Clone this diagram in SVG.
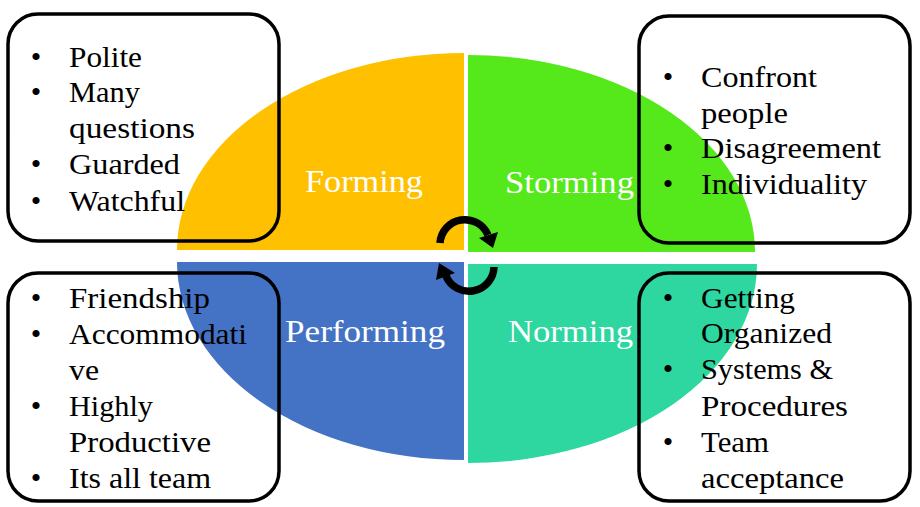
<svg xmlns="http://www.w3.org/2000/svg" width="920" height="507" viewBox="0 0 920 507">
<style>
.lbl{font-family:"Liberation Serif","Times New Roman",serif;font-size:32px;fill:#ffffff}
.t{font-family:"Liberation Serif","Times New Roman",serif;font-size:30px;fill:#000000}
.b{font-family:"Liberation Serif","Times New Roman",serif;font-size:30px;fill:#000000;text-anchor:middle}
.box{fill:none;stroke:#000000;stroke-width:3.5}
.arc{fill:none;stroke:#000000;stroke-width:7.5}
</style>
<rect width="920" height="507" fill="#ffffff"/>
<g id="forming">
<path d="M 464 250 L 177 250 A 287 197 0 0 1 464 53 Z" fill="#FFC000"/>
<text class="lbl" x="305" y="192" textLength="118" lengthAdjust="spacingAndGlyphs">Forming</text>
</g>
<g id="storming">
<path d="M 468 252 L 468 55 A 287 197 0 0 1 755 252 Z" fill="#55E81A"/>
<text class="lbl" x="505" y="193" textLength="129" lengthAdjust="spacingAndGlyphs">Storming</text>
</g>
<g id="performing">
<path d="M 464 262 L 464 460 A 287 198 0 0 1 177 262 Z" fill="#4472C4"/>
<text class="lbl" x="285" y="342" textLength="160" lengthAdjust="spacingAndGlyphs">Performing</text>
</g>
<g id="norming">
<path d="M 468 264 L 757 264 A 289 199 0 0 1 468 463 Z" fill="#2ED6A0"/>
<text class="lbl" x="508" y="342" textLength="125" lengthAdjust="spacingAndGlyphs">Norming</text>
</g>
<g id="connectors">
<path class="arc" d="M 440 243 A 25 25 0 0 1 488 235"/>
<polygon points="479,238 498,232 493,248"/>
<path class="arc" d="M 494 267 A 25 25 0 0 1 446 276"/>
<polygon points="455,273 436,280 439,263"/>
</g>
<g id="box-forming">
<rect class="box" x="8" y="14" width="271" height="227" rx="30"/>
<text class="b" x="36" y="67">•</text>
<text class="t" x="69" y="67" textLength="73" lengthAdjust="spacingAndGlyphs">Polite</text>
<text class="b" x="36" y="102">•</text>
<text class="t" x="69" y="102" textLength="71" lengthAdjust="spacingAndGlyphs">Many</text>
<text class="t" x="69" y="138" textLength="126" lengthAdjust="spacingAndGlyphs">questions</text>
<text class="b" x="36" y="174">•</text>
<text class="t" x="69" y="174" textLength="111" lengthAdjust="spacingAndGlyphs">Guarded</text>
<text class="b" x="36" y="211">•</text>
<text class="t" x="69" y="211" textLength="116" lengthAdjust="spacingAndGlyphs">Watchful</text>
</g>
<g id="box-storming">
<rect class="box" x="639" y="16" width="271" height="227" rx="30"/>
<text class="b" x="668" y="87">•</text>
<text class="t" x="701" y="87" textLength="116" lengthAdjust="spacingAndGlyphs">Confront</text>
<text class="t" x="701" y="123" textLength="87" lengthAdjust="spacingAndGlyphs">people</text>
<text class="b" x="668" y="158">•</text>
<text class="t" x="701" y="158" textLength="180" lengthAdjust="spacingAndGlyphs">Disagreement</text>
<text class="b" x="668" y="194">•</text>
<text class="t" x="701" y="194" textLength="166" lengthAdjust="spacingAndGlyphs">Individuality</text>
</g>
<g id="box-performing">
<rect class="box" x="8" y="273" width="271" height="228" rx="30"/>
<text class="b" x="36" y="308">•</text>
<text class="t" x="69" y="308" textLength="141" lengthAdjust="spacingAndGlyphs">Friendship</text>
<text class="b" x="36" y="344">•</text>
<text class="t" x="69" y="344" textLength="178" lengthAdjust="spacingAndGlyphs">Accommodati</text>
<text class="t" x="69" y="380" textLength="30" lengthAdjust="spacingAndGlyphs">ve</text>
<text class="b" x="36" y="416">•</text>
<text class="t" x="69" y="416" textLength="84" lengthAdjust="spacingAndGlyphs">Highly</text>
<text class="t" x="69" y="452" textLength="142" lengthAdjust="spacingAndGlyphs">Productive</text>
<text class="b" x="36" y="488">•</text>
<text class="t" x="69" y="488" textLength="142" lengthAdjust="spacingAndGlyphs">Its all team</text>
</g>
<g id="box-norming">
<rect class="box" x="639" y="273" width="271" height="228" rx="30"/>
<text class="b" x="668" y="308">•</text>
<text class="t" x="701" y="308" textLength="94" lengthAdjust="spacingAndGlyphs">Getting</text>
<text class="t" x="701" y="343" textLength="131" lengthAdjust="spacingAndGlyphs">Organized</text>
<text class="b" x="668" y="379">•</text>
<text class="t" x="701" y="379" textLength="132" lengthAdjust="spacingAndGlyphs">Systems &amp;</text>
<text class="t" x="701" y="416" textLength="147" lengthAdjust="spacingAndGlyphs">Procedures</text>
<text class="b" x="668" y="452">•</text>
<text class="t" x="701" y="452" textLength="68" lengthAdjust="spacingAndGlyphs">Team</text>
<text class="t" x="701" y="488" textLength="143" lengthAdjust="spacingAndGlyphs">acceptance</text>
</g>
</svg>
